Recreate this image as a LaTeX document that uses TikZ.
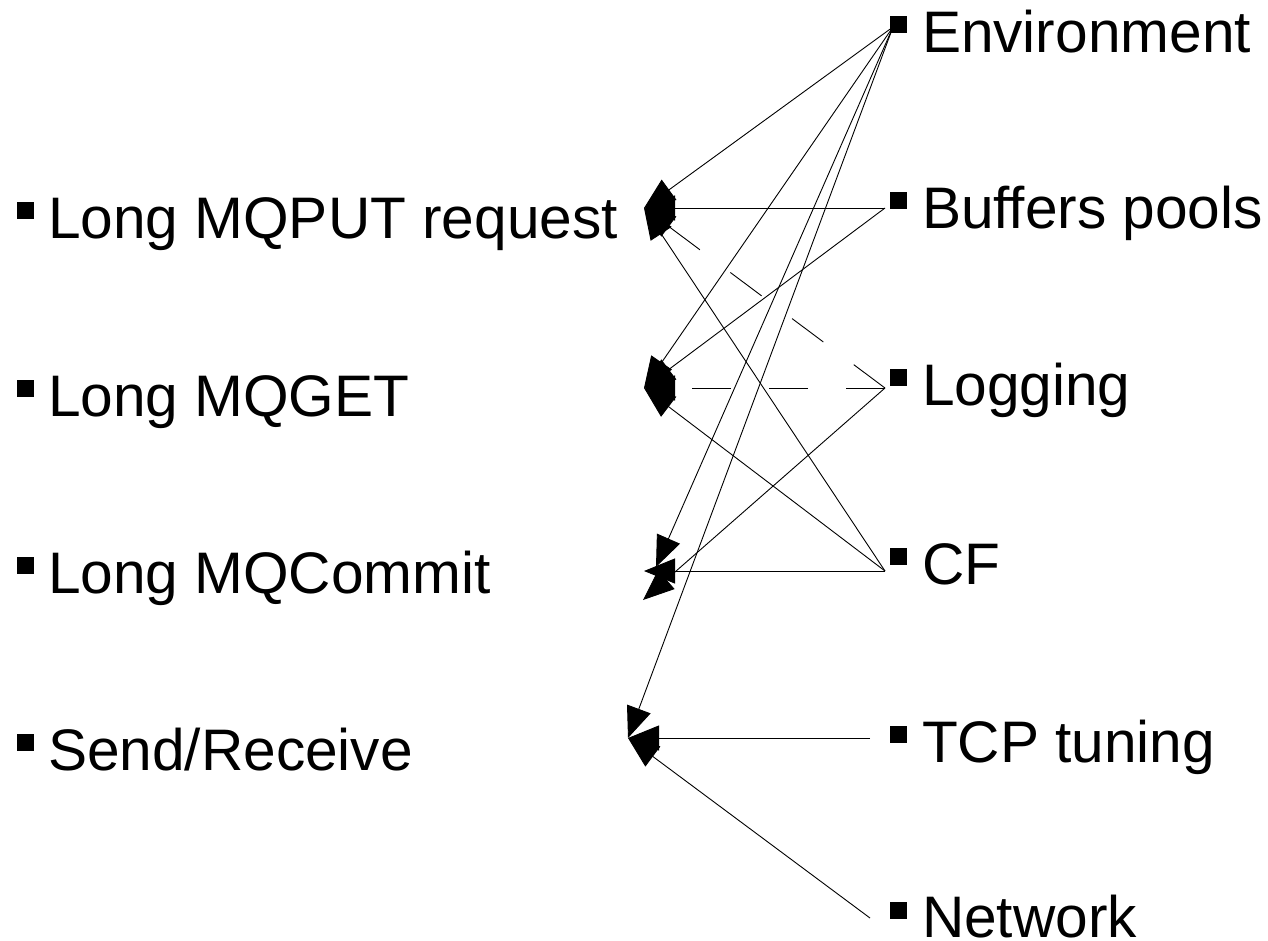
\documentclass[tikz,border=0pt]{standalone}
\usepackage{fontspec}
\setmainfont{Liberation Sans}
\usetikzlibrary{arrows.meta}

\tikzset{
  item/.style={anchor=base west, inner sep=0pt, outer sep=0pt,
    font=\fontsize{58.6}{62}\selectfont},
  bulletsq/.style={fill=black, draw=none, minimum size=17pt, inner sep=0pt,
    anchor=north west},
  link/.style={line width=0.9pt, -{Triangle[length=31pt,width=25pt]}},
  dashlink/.style={link, dash pattern=on 39pt off 38pt},
}

\begin{document}
\begin{tikzpicture}[x=1pt, y=-1pt]
  \useasboundingbox (0,0) rectangle (1268,940);

  % symptoms, left column
  \node[bulletsq] (b-put) at (17,202) {};
  \node[item] (put) at (48,238) {Long MQPUT request};
  \node[bulletsq] (b-get) at (17,380) {};
  \node[item] (get) at (48,416) {Long MQGET};
  \node[bulletsq] (b-commit) at (17,557) {};
  \node[item] (commit) at (48,593) {Long MQCommit};
  \node[bulletsq] (b-send) at (17,734) {};
  \node[item] (send) at (48,770) {Send/Receive};

  % causes, right column
  \node[bulletsq] (b-env) at (890,16) {};
  \node[item] (env) at (922,52) {Environment};
  \node[bulletsq] (b-buf) at (890,192) {};
  \node[item] (buf) at (922,228) {Buffers pools};
  \node[bulletsq] (b-log) at (890,369) {};
  \node[item] (log) at (922,405) {Logging};
  \node[bulletsq] (b-cf) at (890,548) {};
  \node[item] (cf) at (922,584) {CF};
  \node[bulletsq] (b-tcp) at (890,726) {};
  \node[item] (tcp) at (922,762) {TCP tuning};
  \node[bulletsq] (b-net) at (890,902) {};
  \node[item] (net) at (922,937) {Network};

  % connector end points beside the causes
  \coordinate (s-env) at (893,27);
  \coordinate (s-buf) at (885,208);
  \coordinate (s-log) at (885,388);
  \coordinate (s-cf)  at (885,571);
  \coordinate (s-tcp) at (870,738);
  \coordinate (s-net) at (870,918);

  % arrow tips beside the symptoms
  \coordinate (t-put)    at (644,208);
  \coordinate (t-get)    at (644,388);
  \coordinate (t-commit) at (644,571);
  \coordinate (t-commitenv) at (656,567);
  \coordinate (t-commitlog) at (643,600);
  \coordinate (t-send)   at (628,738);

  % Environment
  \draw[link] (s-env) -- (t-put);
  \draw[link] (s-env) -- (t-get);
  \draw[link] (s-env) -- (t-commitenv);
  \draw[link] (s-env) -- (t-send);

  % Buffers pools
  \draw[link] (s-buf) -- (t-put);
  \draw[link] (s-buf) -- (t-get);

  % Logging
  \draw[dashlink] (s-log) -- (t-put);
  \draw[dashlink] (s-log) -- (t-get);
  \draw[link] (s-log) -- (t-commitlog);

  % CF
  \draw[link] (s-cf) -- (t-put);
  \draw[link] (s-cf) -- (t-get);
  \draw[link] (s-cf) -- (t-commit);

  % TCP tuning and Network
  \draw[link] (s-tcp) -- (t-send);
  \draw[link] (s-net) -- (t-send);
\end{tikzpicture}
\end{document}
